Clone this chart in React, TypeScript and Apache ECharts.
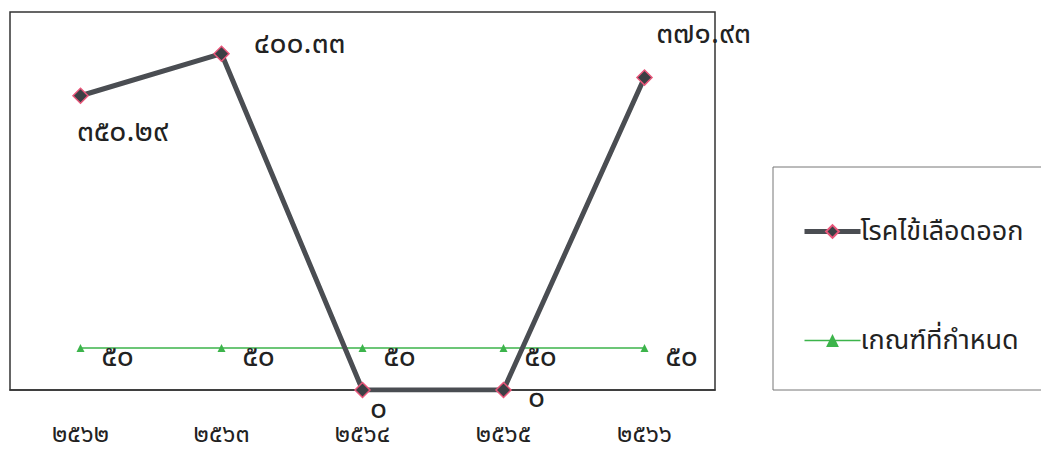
import React, { useEffect, useRef } from "react";
import * as echarts from "echarts";

const categories = ["๒๕๖๒", "๒๕๖๓", "๒๕๖๔", "๒๕๖๕", "๒๕๖๖"];
const dengueName = "โรคไข้เลือดออก";
const thresholdName = "เกณฑ์ที่กำหนด";
const dengueValues = [350.29, 400.33, 0, 0, 371.93];
const thresholdValues = [50, 50, 50, 50, 50];

const dengueLabelOffsets: [number, number][] = [
  [42, 36],
  [78, -10],
  [16, 19],
  [33, 8],
  [59, -44],
];

const thaiDigits = ["๐", "๑", "๒", "๓", "๔", "๕", "๖", "๗", "๘", "๙"];
const toThai = (v: number) =>
  String(v).replace(/[0-9]/g, (d) => thaiDigits[Number(d)]);

const FONT = "'Noto Sans Thai', 'Noto Sans', 'DejaVu Sans', sans-serif";

export default function App() {
  const ref = useRef<HTMLDivElement>(null);
  useEffect(() => {
    if (!ref.current) return;
    const chart = echarts.init(ref.current, undefined, { renderer: "svg" });
    chart.setOption({
      animation: false,
      backgroundColor: "#ffffff",
      textStyle: { fontFamily: FONT },
      grid: {
        left: 10,
        top: 12,
        right: 326,
        bottom: 62,
        show: true,
        borderColor: "#333",
        borderWidth: 1.5,
        backgroundColor: "transparent",
      },
      graphic: [
        {
          type: "rect",
          shape: { x: 773, y: 167, width: 280, height: 223 },
          style: { fill: "none", stroke: "#777", lineWidth: 1 },
        },
      ],
      legend: {
        orient: "vertical",
        left: 797,
        top: 213,
        itemGap: 82,
        itemWidth: 56,
        itemHeight: 16,
        textStyle: { fontSize: 27, color: "#222", fontFamily: FONT, padding: [0, 0, 0, -5] },
        data: [
          { name: dengueName, lineStyle: { width: 5 } },
          { name: thresholdName, lineStyle: { width: 1.5 } },
        ],
      },
      xAxis: {
        type: "category",
        data: categories,
        boundaryGap: true,
        axisLine: { show: true, lineStyle: { color: "#333", width: 1.5 } },
        axisTick: { show: false },
        axisLabel: {
          margin: 33,
          fontSize: 25,
          lineHeight: 22,
          color: "#222",
          fontFamily: FONT,
        },
      },
      yAxis: {
        type: "value",
        min: 0,
        max: 450,
        show: false,
        splitLine: { show: false },
      },
      series: [
        {
          name: thresholdName,
          type: "line",
          data: thresholdValues,
          symbol: "triangle",
          symbolSize: 8,
          lineStyle: { color: "#3cb44b", width: 1.5 },
          itemStyle: { color: "#3cb44b" },
          label: {
            show: true,
            position: "inside",
            offset: [37, 9],
            fontSize: 30,
            lineHeight: 18,
            color: "#222",
            fontFamily: FONT,
            formatter: (p: any) => toThai(p.value),
          },
          z: 2,
        },
        {
          name: dengueName,
          type: "line",
          data: dengueValues.map((v, i) => ({
            value: v,
            label: { offset: dengueLabelOffsets[i] },
          })),
          symbol: "diamond",
          symbolSize: 15,
          lineStyle: { color: "#4a4d52", width: 5 },
          itemStyle: { color: "#3c3f44", borderColor: "#e8567a", borderWidth: 1.5 },
          label: {
            show: true,
            position: "inside",
            fontSize: 30,
            lineHeight: 18,
            color: "#222",
            fontFamily: FONT,
            formatter: (p: any) => toThai(p.value),
          },
          z: 3,
        },
      ],
    });
    return () => chart.dispose();
  }, []);
  return (
    <div
      ref={ref}
      style={{ position: "fixed", left: 0, top: 0, width: 1041, height: 452 }}
    />
  );
}
